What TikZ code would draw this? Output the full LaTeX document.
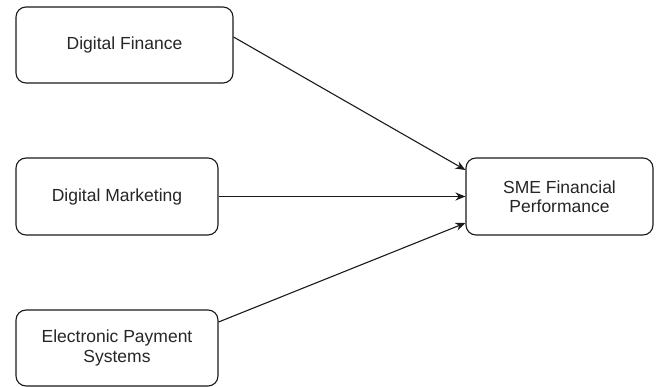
\documentclass[tikz,border=0pt]{standalone}
\usepackage{fontspec}
\setmainfont{Liberation Sans}
\usetikzlibrary{arrows.meta}
\definecolor{txt}{HTML}{262626}
\definecolor{edge}{HTML}{1a1a1a}
\begin{document}
\begin{tikzpicture}[x=1pt,y=-1pt,
  box/.style={draw=edge, line width=1.1pt, rounded corners=10pt, fill=white, inner sep=0pt, align=center,
    text=txt, font=\fontsize{17.5}{19.5}\selectfont},
  conn/.style={draw=edge, line width=1.1pt, -{Stealth[length=10pt,width=8pt]}}]
\useasboundingbox (0,0) rectangle (656,387);
\node[box, minimum width=217pt, minimum height=76pt] (df) at (124.5,45) {Digital Finance};
\node[box, minimum width=202pt, minimum height=77pt] (dm) at (117,196.5) {Digital Marketing};
\node[box, minimum width=202pt, minimum height=76pt] (ep) at (117,348) {Electronic Payment\\Systems};
\node[box, minimum width=187pt, minimum height=77pt] (sme) at (559.5,196.5) {SME Financial\\Performance};
\coordinate (s1) at (df.east |- 0,37);
\coordinate (t1) at (sme.west |- 0,170);
\coordinate (s3) at (ep.east |- 0,322);
\coordinate (t3) at (sme.west |- 0,223);
\draw[conn] (s1) -- (t1);
\draw[conn] (dm.east) -- (sme.west);
\draw[conn] (s3) -- (t3);
\end{tikzpicture}
\end{document}
